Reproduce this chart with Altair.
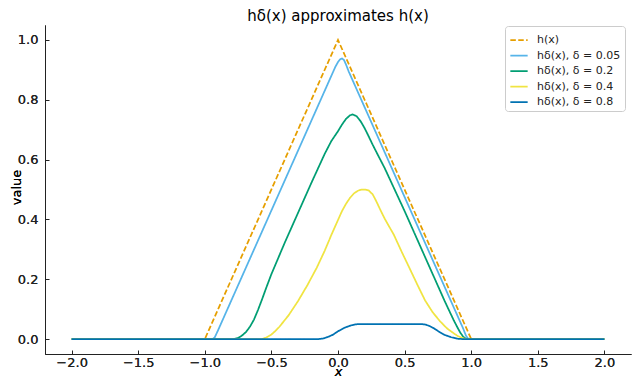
import altair as alt
import pandas as pd

# ---- data ----
labels = ["h(x)", "hδ(x), δ = 0.05", "hδ(x), δ = 0.2", "hδ(x), δ = 0.4", "hδ(x), δ = 0.8"]
colors = ["#E69F00", "#56B4E9", "#009E73", "#F0E442", "#0072B2"]
dashes = [[5.5, 2.4], [1, 0], [1, 0], [1, 0], [1, 0]]

x_h = [-2.0, -1.0, 0.0, 1.0, 2.0]
y_h = [0.0, 0.0, 1.0, 0.0, 0.0]

x_d005 = [-2.0, -0.94, -0.925, -0.90, -0.02, 0.0, 0.015, 0.03, 0.045, 0.06, 0.08,
          0.94, 0.96, 0.975, 0.99, 2.0]
y_d005 = [0.0, 0.0, 0.006, 0.03, 0.91, 0.926, 0.935, 0.938, 0.933, 0.918, 0.895,
          0.035, 0.012, 0.002, 0.0, 0.0]

x_d02 = [-2.0, -0.78, -0.75, -0.72, -0.69, -0.66, -0.63, -0.60, -0.57, -0.54, -0.50, -0.40,
         -0.20, -0.10, -0.05, 0.0, 0.03, 0.06, 0.09, 0.11, 0.14, 0.17, 0.20, 0.23, 0.26, 0.30,
         0.35, 0.50, 0.70, 0.80, 0.84, 0.87, 0.90, 0.92, 0.94, 0.96, 0.98, 2.0]
y_d02 = [0.0, 0.0, 0.004, 0.012, 0.024, 0.042, 0.066, 0.098, 0.133, 0.17, 0.217, 0.322,
         0.522, 0.619, 0.662, 0.695, 0.717, 0.736, 0.748, 0.751, 0.745, 0.728, 0.705, 0.678,
         0.65, 0.615, 0.572, 0.428, 0.228, 0.128, 0.09, 0.062, 0.036, 0.02, 0.008, 0.001, 0.0, 0.0]

x_d04 = [-2.0, -0.57, -0.54, -0.50, -0.47, -0.44, -0.37, -0.30, -0.23, -0.16, -0.10, -0.05,
         0.0, 0.03, 0.06, 0.09, 0.12, 0.15, 0.18, 0.205, 0.23, 0.26, 0.285, 0.32, 0.35, 0.42,
         0.48, 0.536, 0.60, 0.654, 0.71, 0.765, 0.82, 0.876, 0.90, 0.93, 0.96, 2.0]
y_d04 = [0.0, 0.0, 0.005, 0.015, 0.027, 0.041, 0.08, 0.127, 0.18, 0.238, 0.295, 0.348,
         0.398, 0.428, 0.452, 0.472, 0.487, 0.496, 0.50, 0.50, 0.497, 0.484, 0.463, 0.43,
         0.403, 0.348, 0.29, 0.238, 0.178, 0.129, 0.09, 0.06, 0.035, 0.017, 0.01, 0.004, 0.0, 0.0]

x_d08 = [-2.0, -0.145, -0.11, -0.07, -0.04, 0.0, 0.05, 0.10, 0.13, 0.16, 0.63, 0.66, 0.69,
         0.72, 0.76, 0.80, 0.85, 0.90, 0.93, 2.0]
y_d08 = [0.0, 0.0, 0.002, 0.008, 0.014, 0.026, 0.038, 0.046, 0.049, 0.05, 0.05, 0.048,
         0.043, 0.036, 0.024, 0.014, 0.006, 0.001, 0.0, 0.0]

x_ticks = [-2.0, -1.5, -1.0, -0.5, 0.0, 0.5, 1.0, 1.5, 2.0]
y_ticks = [0.0, 0.2, 0.4, 0.6, 0.8, 1.0]

title_text = "hδ(x) approximates h(x)"

# ---- table ----
rows = []
for lab, xs, ys in zip(labels, [x_h, x_d005, x_d02, x_d04, x_d08],
                       [y_h, y_d005, y_d02, y_d04, y_d08]):
    for a, b in zip(xs, ys):
        rows.append({"x": a, "value": b, "series": lab})
df = pd.DataFrame(rows)

FONT = "DejaVu Sans"
xscale = alt.Scale(domain=[-2.2, 2.2], nice=False, zero=False)
yscale = alt.Scale(domain=[-0.05, 1.05], nice=False, zero=False)

legend = alt.Legend(
    title=None, orient="none", legendX=460, legendY=1,
    symbolType="stroke", symbolSize=300, symbolStrokeWidth=1.75,
    labelFont=FONT, labelFontSize=11, labelColor="#222",
    labelOffset=8, rowPadding=0.5, padding=4,
    strokeColor="#cccccc", fillColor="white", cornerRadius=3,
)
color = alt.Color("series:N", scale=alt.Scale(domain=labels, range=colors), legend=legend)
dash = alt.StrokeDash("series:N", scale=alt.Scale(domain=labels, range=dashes), legend=legend)

x_main = alt.X("x:Q", scale=xscale, axis=alt.Axis(
    orient="bottom", values=x_ticks, format=".1f", ticks=False, tickSize=0,
    labelPadding=2, title="x", titleFontStyle="italic", titleFontWeight="normal",
    titleFontSize=13, titleFont=FONT, titleBaseline="alphabetic", titleY=21, grid=False))
y_main = alt.Y("value:Q", scale=yscale, axis=alt.Axis(
    orient="left", values=y_ticks, format=".1f", ticks=False, tickSize=0,
    labelPadding=7, title="value", titleFontWeight="normal", titleFontSize=13,
    titleFont=FONT, titleBaseline="alphabetic", titleX=-25, titleY=162, titleAngle=270,
    grid=False))

h_layer = alt.Chart(df).transform_filter(alt.datum.series == labels[0]).mark_line(
    strokeWidth=1.75, interpolate="linear").encode(
    x=x_main, y=y_main, color=color, strokeDash=dash)

d_layer = alt.Chart(df).transform_filter(alt.datum.series != labels[0]).mark_line(
    strokeWidth=1.75, interpolate="linear").encode(
    x=x_main, y=y_main, color=color, strokeDash=dash)

tick_layer = alt.Chart(df).mark_line(opacity=0).encode(
    x=alt.X("x:Q", scale=xscale, axis=alt.Axis(
        orient="bottom", values=x_ticks, labels=False, domain=False, ticks=True,
        tickSize=4, offset=-4, title=None, grid=False)),
    y=alt.Y("value:Q", scale=yscale, axis=alt.Axis(
        orient="left", values=y_ticks, labels=False, domain=False, ticks=True,
        tickSize=4, offset=-4, title=None, grid=False)),
    detail="series:N",
)

chart = alt.layer(h_layer, d_layer, tick_layer).resolve_axis(
    x="independent", y="independent"
).properties(
    width=586, height=329,
    autosize=alt.AutoSizeParams(type="none"),
    padding={"left": 37, "top": 17, "right": 1, "bottom": 24},
    title=alt.TitleParams(title_text, font=FONT, fontSize=15, fontWeight="normal",
                          color="black", anchor="middle", offset=1),
).configure_view(stroke=None).configure_axis(
    labelFont=FONT, labelFontSize=13, labelColor="#222",
    domainColor="#222", tickColor="#222", domainWidth=1, tickWidth=1,
)

chart.save("out.html", embed_options={"renderer": "svg", "actions": False})
